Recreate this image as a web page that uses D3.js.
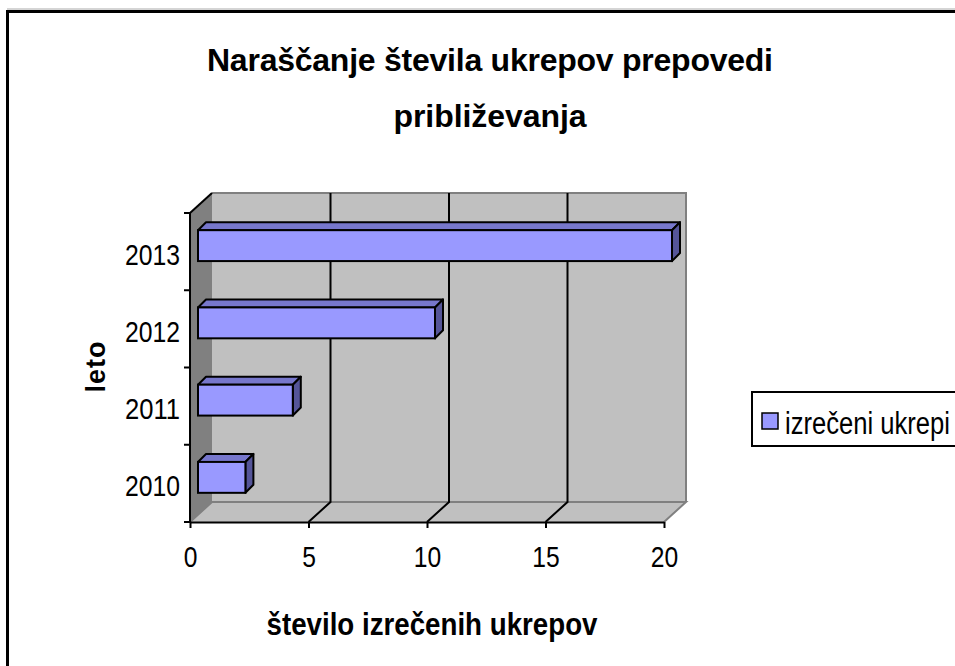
<!DOCTYPE html>
<html>
<head>
<meta charset="utf-8">
<script src="https://cdn.jsdelivr.net/npm/d3@7"></script>
<style>
  body { margin: 0; background: #fff; }
  svg { display: block; font-family: "Liberation Sans", Arial, sans-serif; }
  .narrow { font-family: "Liberation Sans Narrow", "Arial Narrow", "Liberation Sans", Arial, sans-serif; }
</style>
</head>
<body>
<svg width="955" height="666"></svg>
<script>
const years = ['2010', '2011', '2012', '2013'];
const values = [2, 4, 10, 20];
const xTicks = [0, 5, 10, 15, 20];
const seriesName = 'izrečeni ukrepi';
const titleLines = ['Naraščanje števila ukrepov prepovedi', 'približevanja'];
const xTitle = 'število izrečenih ukrepov';
const yTitle = 'leto';

const svg = d3.select('svg');

// squeeze text to a given width (reference uses a condensed face)
function fit(sel, w, adj = 'spacingAndGlyphs') {
  sel.attr('textLength', w).attr('lengthAdjust', adj);
}

// outer frame
svg.append('line').attr('x1', 7).attr('x2', 960).attr('y1', 9).attr('y2', 9)
  .attr('stroke', '#aaa').attr('stroke-width', 1);
svg.append('rect').attr('x', 7.5).attr('y', 11.5).attr('width', 960).attr('height', 700)
  .attr('fill', 'none').attr('stroke', '#000').attr('stroke-width', 3);

// scales (front plane)
const x = d3.scaleLinear().domain([0, 20]).range([190, 664]);
const y = d3.scaleBand().domain(years).range([522, 213]);
const dx = 22, dy = -20; // depth of the plot box
const bx = 8, by = -8;   // bar front plane offset / bar depth

const [x0, x1] = x.range();
const yTop = 213, yBot = 522;

// back wall
svg.append('rect').attr('x', x0 + dx).attr('y', yTop + dy)
  .attr('width', x1 - x0).attr('height', yBot - yTop)
  .attr('fill', '#c0c0c0');
svg.append('path')
  .attr('d', `M${x0 + dx},${yTop + dy}H${x1 + dx}V${yBot + dy}`)
  .attr('fill', 'none').attr('stroke', '#808080').attr('stroke-width', 2);

// side wall
svg.append('path')
  .attr('d', `M${x0},${yTop}L${x0 + dx},${yTop + dy}L${x0 + dx},${yBot + dy}L${x0},${yBot}Z`)
  .attr('fill', '#808080');

// floor
svg.append('path')
  .attr('d', `M${x0},${yBot}L${x1},${yBot}L${x1 + dx},${yBot + dy}L${x0 + dx},${yBot + dy}Z`)
  .attr('fill', '#c0c0c0');
svg.append('path')
  .attr('d', `M${x0},${yBot}L${x0 + dx},${yBot + dy}H${x1 + dx}L${x1},${yBot}`)
  .attr('fill', 'none').attr('stroke', '#808080').attr('stroke-width', 2);

// gridlines
const inner = xTicks.filter(d => d > 0 && d < 20);
svg.append('g').selectAll('path').data(inner).join('path')
  .attr('d', d => `M${x(d)},${yBot}L${x(d) + dx},${yBot + dy}V${yTop + dy}`)
  .attr('fill', 'none').attr('stroke', '#000').attr('stroke-width', 2);

// top edge of side wall
svg.append('line').attr('x1', x0).attr('y1', yTop).attr('x2', x0 + dx).attr('y2', yTop + dy)
  .attr('stroke', '#000').attr('stroke-width', 2);

// bars
const bw = y.bandwidth();
const bh = bw * 0.4;
const bars = svg.append('g').selectAll('g').data(years.map((yr, i) => ({ yr, v: values[i] }))).join('g');
const barTop = d => y(d.yr) + bw / 2 + 2 + by - bh / 2;
const bl = x(0) + bx;
bars.append('path')
  .attr('d', d => {
    const t = barTop(d), r = x(d.v) + bx;
    return `M${bl},${t}L${bl + bx},${t + by}L${r + bx},${t + by}L${r},${t}Z`;
  })
  .attr('fill', '#7777cc').attr('stroke', '#000').attr('stroke-width', 2).attr('stroke-linejoin', 'round');
bars.append('path')
  .attr('d', d => {
    const t = barTop(d), r = x(d.v) + bx;
    return `M${r},${t}L${r + bx},${t + by}L${r + bx},${t + bh + by}L${r},${t + bh}Z`;
  })
  .attr('fill', '#555599').attr('stroke', '#000').attr('stroke-width', 2).attr('stroke-linejoin', 'round');
bars.append('rect')
  .attr('x', bl).attr('y', barTop)
  .attr('width', d => x(d.v) - x(0)).attr('height', bh)
  .attr('fill', '#9999ff').attr('stroke', '#000').attr('stroke-width', 2);

// x axis
const xAxis = svg.append('g').attr('transform', `translate(0,${yBot})`)
  .call(d3.axisBottom(x).tickValues(xTicks).tickSize(6).tickPadding(18).tickSizeOuter(0));
xAxis.attr('font-family', null);
xAxis.select('.domain').attr('stroke-width', 2);
xAxis.selectAll('.tick line').attr('stroke-width', 2);
xAxis.selectAll('text').attr('class', 'narrow').attr('font-size', 30)
  .call(fit, d => String(d).length * 13.7);

// y axis
svg.append('line').attr('x1', x0).attr('x2', x0).attr('y1', yTop).attr('y2', yBot)
  .attr('stroke', '#000').attr('stroke-width', 2);
const bounds = [...years.map(d => y(d)), yBot];
svg.append('g').selectAll('line').data(bounds).join('line')
  .attr('x1', x0 - 6).attr('x2', x0).attr('y1', d => d).attr('y2', d => d)
  .attr('stroke', '#000').attr('stroke-width', 2);
svg.append('g').selectAll('text').data(years).join('text')
  .attr('class', 'narrow')
  .attr('x', 180).attr('y', d => y(d) + bw / 2 + 13)
  .attr('text-anchor', 'end').attr('font-size', 30).text(d => d)
  .call(fit, 55);

// titles
svg.append('g').selectAll('text').data(titleLines).join('text')
  .attr('x', 490).attr('y', (d, i) => 71 + i * 56)
  .attr('text-anchor', 'middle').attr('font-size', 32).attr('font-weight', 'bold')
  .text(d => d)
  .call(fit, (d, i) => [566, 193][i], 'spacing');

svg.append('text').attr('class', 'narrow').attr('x', 432).attr('y', 635)
  .attr('text-anchor', 'middle').attr('font-size', 32).attr('font-weight', 'bold')
  .text(xTitle)
  .call(fit, 331);

svg.append('text').attr('transform', 'translate(105,367) rotate(-90)')
  .attr('text-anchor', 'middle').attr('font-size', 27).attr('font-weight', 'bold')
  .text(yTitle)
  .call(fit, 51, 'spacing');

// legend
const lg = svg.append('g');
lg.append('rect').attr('x', 752).attr('y', 392).attr('width', 260).attr('height', 54)
  .attr('fill', '#fff').attr('stroke', '#000').attr('stroke-width', 2);
lg.append('rect').attr('x', 762).attr('y', 413).attr('width', 16).attr('height', 16)
  .attr('fill', '#9999ff').attr('stroke', '#000').attr('stroke-width', 1.5);
lg.append('text').attr('class', 'narrow').attr('x', 785).attr('y', 434).attr('font-size', 31)
  .text(seriesName)
  .call(fit, 165);
</script>
</body>
</html>
